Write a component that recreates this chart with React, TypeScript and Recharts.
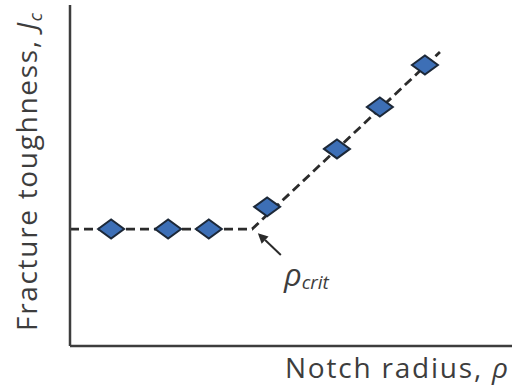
import React from 'react';
import { ComposedChart, Line, Scatter, XAxis, YAxis, ReferenceLine, ReferenceDot, Label } from 'recharts';

// measured points (arbitrary units, 0-100 on both axes)
const samples = [
  { x: 9.3, y: 34.3 },
  { x: 22.2, y: 34.3 },
  { x: 31.4, y: 34.3 },
  { x: 44.6, y: 40.8 },
  { x: 60.4, y: 57.8 },
  { x: 70.1, y: 70.1 },
  { x: 80.3, y: 82.4 },
];

// bilinear trend: plateau then rising branch
const trend = [
  { x: 0, y: 34.3 },
  { x: 41.2, y: 34.3 },
  { x: 83.7, y: 86.2 },
];

const arrowTail = { x: 47.7, y: 26.7 };
const arrowTip = { x: 42.5, y: 33.1 };
const critLabelAt = { x: 48.4, y: 17.6 };

const xTitle = 'Notch radius, ';
const yTitle = 'Fracture toughness, ';

const INK = '#3d3d3d';
const FONT = '"Open Sans", sans-serif';

const Diamond = (props: any) => {
  const { cx, cy } = props;
  if (cx == null || cy == null) return null;
  const w = 13;
  const h = 9.5;
  return (
    <polygon
      points={`${cx - w},${cy} ${cx},${cy - h} ${cx + w},${cy} ${cx},${cy + h}`}
      fill="#3d6fb6"
      stroke="#1c2838"
      strokeWidth={2}
    />
  );
};

const Arrow = (props: any) => {
  const { x1, y1, x2, y2 } = props;
  if (x1 == null) return null;
  const dx = x2 - x1;
  const dy = y2 - y1;
  const len = Math.sqrt(dx * dx + dy * dy);
  const ux = dx / len;
  const uy = dy / len;
  const head = 10;
  const half = 5;
  const bx = x2 - ux * head;
  const by = y2 - uy * head;
  return (
    <g>
      <line x1={x1} y1={y1} x2={bx} y2={by} stroke="#2a2a2a" strokeWidth={2} />
      <polygon
        points={`${x2},${y2} ${bx - uy * half},${by + ux * half} ${bx + uy * half},${by - ux * half}`}
        fill="#2a2a2a"
      />
    </g>
  );
};

const CritLabel = (props: any) => {
  const { cx, cy } = props;
  if (cx == null) return null;
  return (
    <text x={cx} y={cy} fill={INK} fontFamily={FONT} fontStyle="italic" fontSize={31}>
      ρ
      <tspan fontSize={19} dy={3}>crit</tspan>
    </text>
  );
};

const XTitle = () => (
  <text x={285} y={378} fill={INK} fontFamily={FONT} fontSize={28} textLength={223} lengthAdjust="spacing">
    {xTitle}
    <tspan fontStyle="italic">ρ</tspan>
  </text>
);

const YTitle = () => (
  <text
    transform="rotate(-90)"
    x={-331}
    y={37}
    fill={INK}
    fontFamily={FONT}
    fontSize={28}
    textLength={318}
    lengthAdjust="spacing"
  >
    {yTitle}
    <tspan fontStyle="italic">J</tspan>
    <tspan fontStyle="italic" fontSize={18} dy={5}>c</tspan>
  </text>
);

export default function App() {
  return (
    <div style={{ position: 'absolute', left: 0, top: 0, background: '#fff' }}>
      <ComposedChart width={512} height={390} margin={{ top: 5, right: 0, bottom: 0, left: 0 }}>
        <XAxis
          type="number"
          dataKey="x"
          domain={[0, 100]}
          allowDataOverflow
          height={44}
          tick={false}
          tickLine={false}
          axisLine={{ stroke: INK, strokeWidth: 2.5 }}
        >
          <Label content={<XTitle />} />
        </XAxis>
        <YAxis
          type="number"
          dataKey="y"
          domain={[0, 100]}
          allowDataOverflow
          width={70}
          tick={false}
          tickLine={false}
          axisLine={{ stroke: INK, strokeWidth: 2.5 }}
        >
          <Label content={<YTitle />} />
        </YAxis>
        <Scatter data={samples} dataKey="y" shape={<Diamond />} isAnimationActive={false} />
        <Line
          data={trend}
          dataKey="y"
          type="linear"
          stroke="#2b2b2b"
          strokeWidth={2.8}
          strokeDasharray="9 5"
          dot={false}
          activeDot={false}
          isAnimationActive={false}
        />
        <ReferenceLine segment={[arrowTail, arrowTip]} shape={<Arrow />} />
        <ReferenceDot x={critLabelAt.x} y={critLabelAt.y} shape={<CritLabel />} />
      </ComposedChart>
    </div>
  );
}
